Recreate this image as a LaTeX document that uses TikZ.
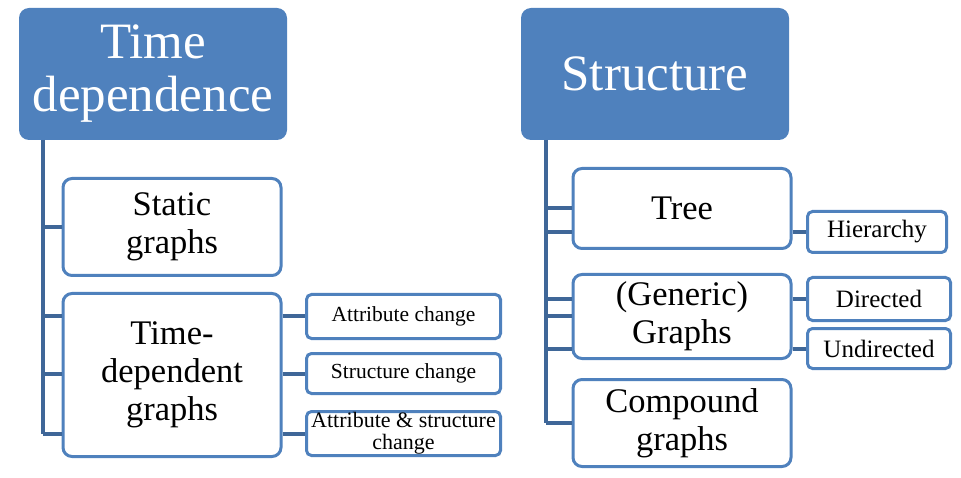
\documentclass[tikz,border=0pt]{standalone}
\usepackage{fontspec}
\setmainfont{Liberation Serif}
\usepackage{tikz}
\usetikzlibrary{positioning}

\definecolor{headblue}{HTML}{4F81BD}
\definecolor{linkblue}{HTML}{3F6798}

\tikzset{
	head/.style={fill=headblue,text=white,rounded corners=10pt,
		minimum width=268pt,minimum height=132pt,align=center,
		font=\fontsize{51}{53}\selectfont},
	topic/.style={draw=headblue,line width=3pt,fill=white,rounded corners=9pt,
		minimum width=218pt,align=center,font=\fontsize{34.5}{38}\selectfont},
	leaf/.style={draw=headblue,line width=3pt,fill=white,rounded corners=5pt,
		align=center,inner sep=0pt},
	link/.style={linkblue,line width=4pt}
}

\begin{document}
\begin{tikzpicture}[x=1pt,y=-1pt]
	\useasboundingbox (0,0) rectangle (961,478);
	% headers
	\node[head] (timehead) at (153,74) {Time\\dependence};
	\node[head] (structhead) at (655,74) {Structure};
	% time dependence side
	\coordinate (ltop) at (43,140);
	\node[topic,minimum height=97pt] (static) at (172,227) {Static\\graphs};
	\node[topic,minimum height=163pt] (tdep) at (172,375) {Time-\\dependent\\graphs};
	\node[leaf,minimum width=194pt,minimum height=44pt,font=\fontsize{21.5}{22}\selectfont]
		(attr) at (403.5,316.5) {Attribute change};
	\node[leaf,minimum width=194pt,minimum height=40pt,font=\fontsize{21.5}{22}\selectfont]
		(strc) at (403.5,373.5) {Structure change};
	\node[leaf,minimum width=194pt,minimum height=44pt,font=\fontsize{22}{22}\selectfont]
		(both) at (403.5,433.5) {Attribute \& structure\\change};
	\draw[link] (ltop) -- (ltop |- both.west);
	\draw[link] (static.west -| ltop) -- (static.west);
	\foreach \n in {attr,strc,both} {
		\draw[link] (\n.west -| ltop) -- (\n.west -| tdep.west);
		\draw[link] (\n.west -| tdep.east) -- (\n.west);
	}
	% structure side
	\coordinate (rtop) at (546,140);
	\node[topic,minimum height=80pt] (tree) at (682,208.5) {Tree};
	\node[topic,minimum height=84pt] (generic) at (682,316.5) {(Generic)\\Graphs};
	\node[topic,minimum height=87pt] (compound) at (682,423) {Compound\\graphs};
	\node[leaf,minimum width=139pt,minimum height=41pt,font=\fontsize{25}{26}\selectfont]
		(hier) at (877,232) {Hierarchy};
	\node[leaf,minimum width=143pt,minimum height=43pt,font=\fontsize{25}{26}\selectfont]
		(dir) at (879,299) {Directed};
	\node[leaf,minimum width=143pt,minimum height=40pt,font=\fontsize{25}{26}\selectfont]
		(undir) at (879,348.5) {Undirected};
	\draw[link] (rtop) -- (rtop |- compound.west);
	\draw[link] (tree.west -| rtop) -- (tree.west);
	\draw[link] (hier.west -| rtop) -- (hier.west -| tree.west);
	\draw[link] (hier.west -| tree.east) -- (hier.west);
	\draw[link] (generic.west -| rtop) -- (generic.west);
	\foreach \n in {dir,undir} {
		\draw[link] (\n.west -| rtop) -- (\n.west -| generic.west);
		\draw[link] (\n.west -| generic.east) -- (\n.west);
	}
	\draw[link] (compound.west -| rtop) -- (compound.west);
\end{tikzpicture}
\end{document}
